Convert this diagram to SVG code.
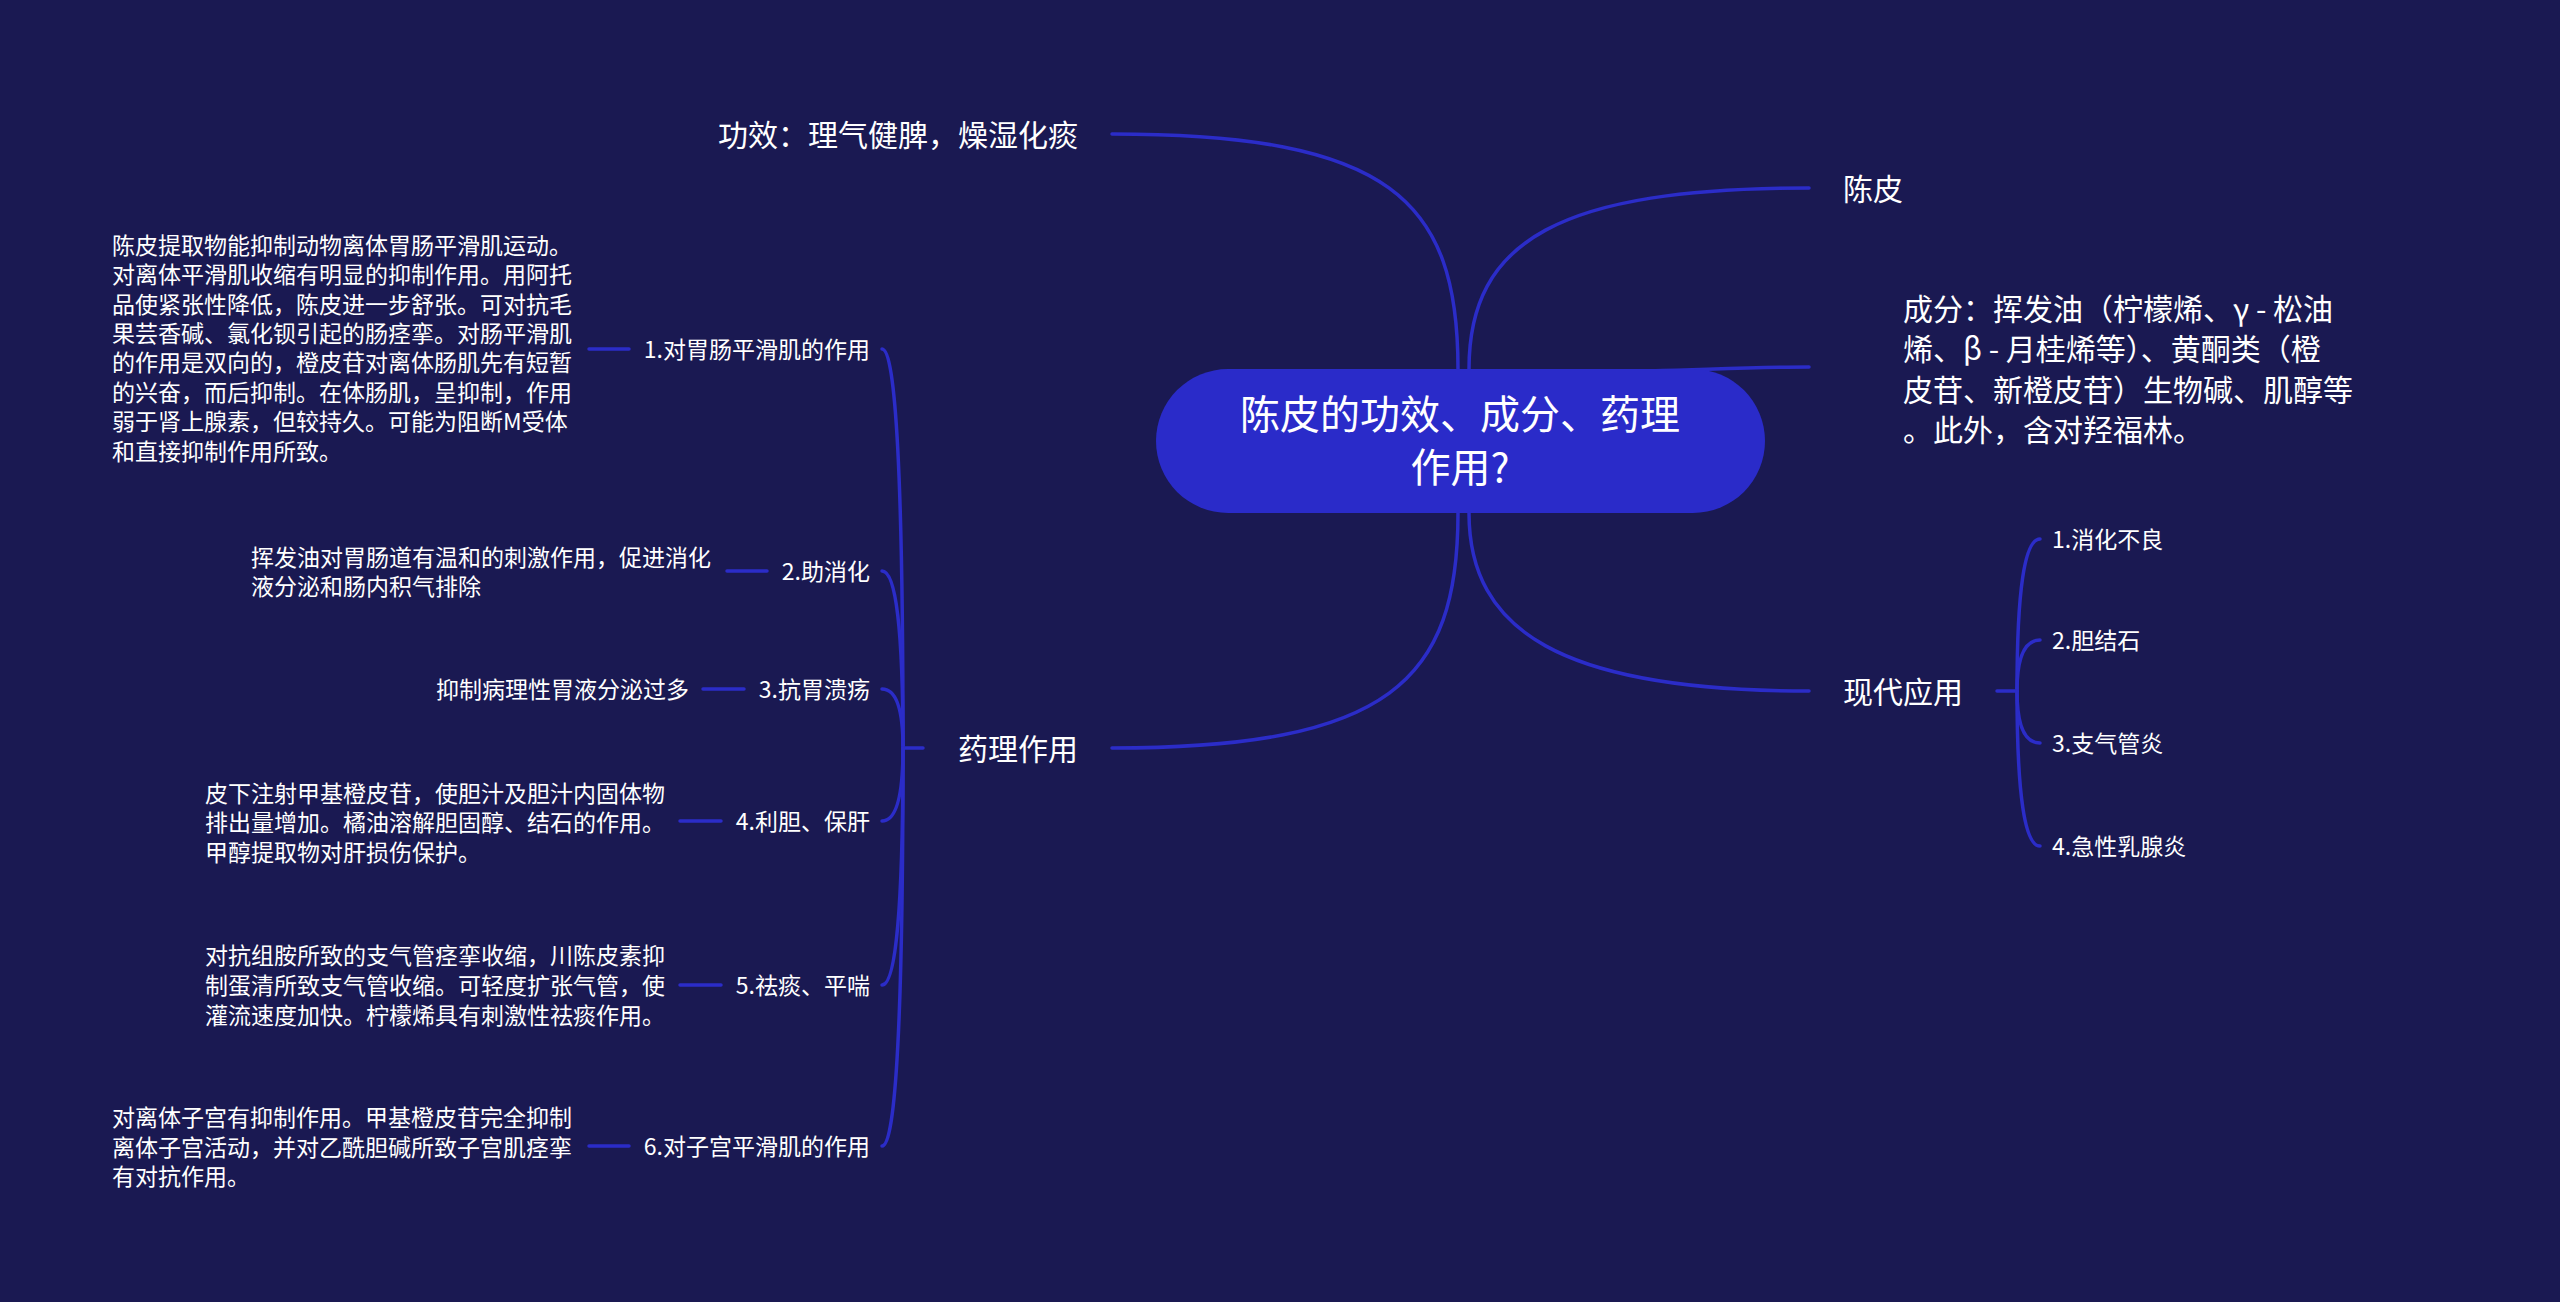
<svg xmlns="http://www.w3.org/2000/svg" width="2560" height="1302" viewBox="0 0 2560 1302">
<style>
.bg{fill:#1a1952}
.ln{fill:none;stroke:#2b2cc8;stroke-width:3.5;stroke-linecap:round}
.t{font-family:"Noto Sans CJK SC","Noto Sans",sans-serif;fill:#ffffff;dominant-baseline:central}
.t40{font-size:40px}
.t30{font-size:30px}
.t23{font-size:23px}
.root{fill:#2a2bc9}
</style>
<rect class="bg" x="0" y="0" width="2560" height="1302"/>
<g id="connectors">
<path class="ln" d="M1458 369 C1458 200 1390 134 1112 134"/>
<path class="ln" d="M1469 369 C1469 240 1560 188 1809 188"/>
<path class="ln" d="M1600 372 C1700 370 1750 367 1809 367"/>
<path class="ln" d="M1458 513 C1458 680 1390 748 1112 748"/>
<path class="ln" d="M1469 513 C1469 630 1560 691 1809 691"/>
<path class="ln" d="M903 748 L923 748"/>
<path class="ln" d="M903 748 Q903 349 882 349"/>
<path class="ln" d="M903 748 Q903 571 882 571"/>
<path class="ln" d="M903 748 Q903 689 882 689"/>
<path class="ln" d="M903 748 Q903 821 882 821"/>
<path class="ln" d="M903 748 Q903 985 882 985"/>
<path class="ln" d="M903 748 Q903 1146 882 1146"/>
<path class="ln" d="M589 349 L629 349"/>
<path class="ln" d="M727 571 L767 571"/>
<path class="ln" d="M703 689 L744 689"/>
<path class="ln" d="M680 821 L721 821"/>
<path class="ln" d="M680 985 L721 985"/>
<path class="ln" d="M589 1146 L629 1146"/>
<path class="ln" d="M1997 691 L2017 691"/>
<path class="ln" d="M2017 691 Q2017 539 2040 539"/>
<path class="ln" d="M2017 691 Q2017 640 2040 640"/>
<path class="ln" d="M2017 691 Q2017 743 2040 743"/>
<path class="ln" d="M2017 691 Q2017 846 2040 846"/>
</g>
<g id="root">
<rect class="root" x="1156" y="369" width="609" height="144" rx="72" ry="72"/>
<text class="t t40" x="1460" y="412" text-anchor="middle">陈皮的功效、成分、药理</text>
<text class="t t40" x="1460" y="465" text-anchor="middle">作用?</text>
</g>
<g id="gongxiao"><text class="t t30" x="1078" y="133" text-anchor="end">功效：理气健脾，燥湿化痰</text></g>
<g id="chenpi"><text class="t t30" x="1843" y="187">陈皮</text></g>
<g id="chengfen">
<text class="t t30" x="1903" y="307">成分：挥发油（柠檬烯、γ - 松油</text>
<text class="t t30" x="1903" y="347">烯、β - 月桂烯等）、黄酮类（橙</text>
<text class="t t30" x="1903" y="388">皮苷、新橙皮苷）生物碱、肌醇等</text>
<text class="t t30" x="1903" y="428">。此外，含对羟福林。</text>
</g>
<g id="yaoli"><text class="t t30" x="958" y="747">药理作用</text></g>
<g id="xiandai"><text class="t t30" x="1843" y="690">现代应用</text></g>
<g id="app1"><text class="t t23" x="2052" y="538">1.消化不良</text></g>
<g id="app2"><text class="t t23" x="2052" y="639">2.胆结石</text></g>
<g id="app3"><text class="t t23" x="2052" y="742">3.支气管炎</text></g>
<g id="app4"><text class="t t23" x="2052" y="845">4.急性乳腺炎</text></g>
<g id="p1"><text class="t t23" x="870" y="348" text-anchor="end">1.对胃肠平滑肌的作用</text></g>
<g id="p2"><text class="t t23" x="870" y="570" text-anchor="end">2.助消化</text></g>
<g id="p3"><text class="t t23" x="870" y="688" text-anchor="end">3.抗胃溃疡</text></g>
<g id="p4"><text class="t t23" x="870" y="820" text-anchor="end">4.利胆、保肝</text></g>
<g id="p5"><text class="t t23" x="870" y="984" text-anchor="end">5.祛痰、平喘</text></g>
<g id="p6"><text class="t t23" x="870" y="1145" text-anchor="end">6.对子宫平滑肌的作用</text></g>
<g id="d1">
<text class="t t23" x="112" y="244">陈皮提取物能抑制动物离体胃肠平滑肌运动。</text>
<text class="t t23" x="112" y="273">对离体平滑肌收缩有明显的抑制作用。用阿托</text>
<text class="t t23" x="112" y="303">品使紧张性降低，陈皮进一步舒张。可对抗毛</text>
<text class="t t23" x="112" y="332">果芸香碱、氯化钡引起的肠痉挛。对肠平滑肌</text>
<text class="t t23" x="112" y="361">的作用是双向的，橙皮苷对离体肠肌先有短暂</text>
<text class="t t23" x="112" y="391">的兴奋，而后抑制。在体肠肌，呈抑制，作用</text>
<text class="t t23" x="112" y="420">弱于肾上腺素，但较持久。可能为阻断M受体</text>
<text class="t t23" x="112" y="450">和直接抑制作用所致。</text>
</g>
<g id="d2">
<text class="t t23" x="251" y="556">挥发油对胃肠道有温和的刺激作用，促进消化</text>
<text class="t t23" x="251" y="585">液分泌和肠内积气排除</text>
</g>
<g id="d3"><text class="t t23" x="436" y="688">抑制病理性胃液分泌过多</text></g>
<g id="d4">
<text class="t t23" x="205" y="792">皮下注射甲基橙皮苷，使胆汁及胆汁内固体物</text>
<text class="t t23" x="205" y="821">排出量增加。橘油溶解胆固醇、结石的作用。</text>
<text class="t t23" x="205" y="851">甲醇提取物对肝损伤保护。</text>
</g>
<g id="d5">
<text class="t t23" x="205" y="954">对抗组胺所致的支气管痉挛收缩，川陈皮素抑</text>
<text class="t t23" x="205" y="984">制蛋清所致支气管收缩。可轻度扩张气管，使</text>
<text class="t t23" x="205" y="1014">灌流速度加快。柠檬烯具有刺激性祛痰作用。</text>
</g>
<g id="d6">
<text class="t t23" x="112" y="1116">对离体子宫有抑制作用。甲基橙皮苷完全抑制</text>
<text class="t t23" x="112" y="1146">离体子宫活动，并对乙酰胆碱所致子宫肌痉挛</text>
<text class="t t23" x="112" y="1175">有对抗作用。</text>
</g>
</svg>
